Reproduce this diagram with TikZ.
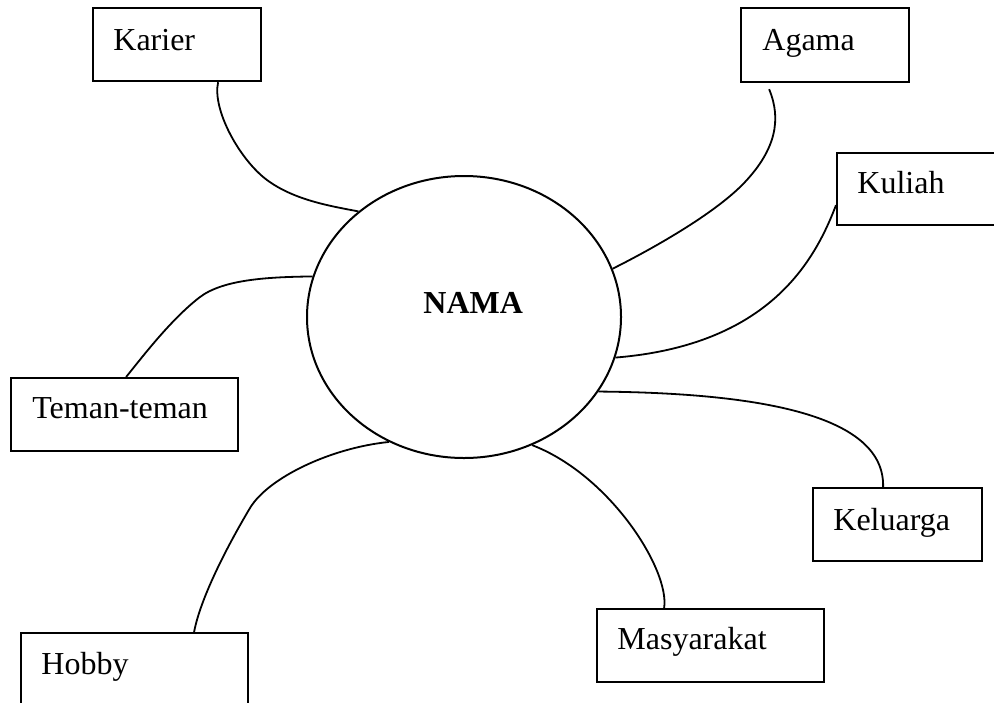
\documentclass[tikz,border=0pt]{standalone}
\usepackage{fontspec}
\setmainfont{Liberation Serif}
\usetikzlibrary{shapes.geometric}
\begin{document}
\begin{tikzpicture}[x=0.5pt,y=-0.5pt,
  box/.style={draw, line width=1.1pt, rectangle, inner sep=0pt, anchor=north west},
  lbl/.style={anchor=base west, inner sep=0pt, font=\fontsize{16}{19}\selectfont},
  link/.style={line width=0.9pt}]
\useasboundingbox (0,0) rectangle (994,702);
% boxes
\node[box, minimum width=84pt,    minimum height=36.5pt] (karier)     at (92,7)   {};
\node[box, minimum width=84pt,    minimum height=37pt]   (agama)      at (740,7)  {};
\node[box, minimum width=84pt,    minimum height=36pt]   (kuliah)     at (836,152) {};
\node[box, minimum width=113.5pt, minimum height=36.5pt] (teman)      at (10,377) {};
\node[box, minimum width=113.5pt, minimum height=40pt]   (hobby)      at (20,632) {};
\node[box, minimum width=84.5pt,  minimum height=36.5pt] (keluarga)   at (812,487) {};
\node[box, minimum width=113.5pt, minimum height=36.5pt] (masyarakat) at (596,608) {};
% labels
\node[lbl] (tkarier)     at (113,50)  {Karier};
\node[lbl] (tagama)      at (762,50)  {Agama};
\node[lbl] (tkuliah)     at (857,193) {Kuliah};
\node[lbl] (tteman)      at (32,418)  {Teman-teman};
\node[lbl] (thobby)      at (41,674)  {Hobby};
\node[lbl] (tkeluarga)   at (833,530) {Keluarga};
\node[lbl] (tmasyarakat) at (617,649) {Masyarakat};
% central ellipse
\node[draw, ellipse, line width=1pt, inner sep=0pt, minimum width=157pt, minimum height=141pt] (nama) at (464,317) {};
\node[lbl, font=\fontsize{16}{19}\selectfont\bfseries] (tnama) at (423,313) {NAMA};
% connectors
\draw[link] ([xshift=20.5pt]karier.south) .. controls (212,110) and (240,160) .. (267,180)
            .. controls (294,200) and (330,206) .. (nama.135.3);
\draw[link] ([xshift=-28pt,yshift=-3pt]agama.south) .. controls (782,120) and (775,150) .. (745,182)
            .. controls (715,214) and (650,250) .. (nama.18.3);
\draw[link] ([yshift=-8pt]kuliah.west) .. controls (815,260) and (770,345) .. (nama.-15.5);
\draw[link] ([xshift=-7.25pt]keluarga.north) .. controls (885,415) and (760,393) .. (nama.-29.7);
\draw[link] ([xshift=-23.25pt]masyarakat.north) .. controls (670,570) and (610,475) .. (nama.-62.4);
\draw[link] ([xshift=29.75pt]hobby.north) .. controls (200,600) and (225,550) .. (250,508)
            .. controls (268,478) and (330,448) .. (nama.-121);
\draw[link] ([xshift=0.75pt]teman.north) .. controls (140,360) and (170,320) .. (200,297)
            .. controls (224,279) and (270,277) .. (nama.165);
\end{tikzpicture}
\end{document}
